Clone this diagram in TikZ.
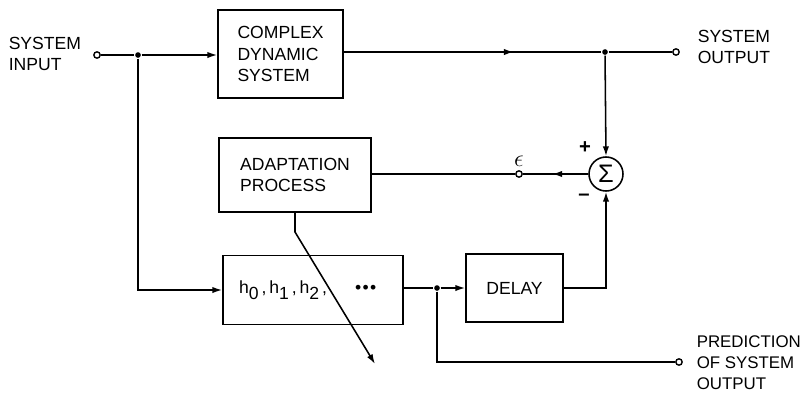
\documentclass[tikz,border=0pt]{standalone}
\usepackage{fontspec}
\setmainfont{Liberation Sans}
\usetikzlibrary{arrows.meta,decorations.markings}
\newcommand{\lblfont}{\fontsize{12.5}{15}\selectfont}
\tikzset{
  block/.style={draw, line width=1.1pt, align=left, font=\lblfont},
  lbl/.style={align=left, font=\lblfont, inner sep=0pt},
  port/.style={circle, draw, line width=1pt, fill=white, inner sep=0pt, minimum size=4.5pt},
  dot/.style={circle, fill, inner sep=0pt, minimum size=4pt},
  tip/.style={-{Latex[length=7pt,width=4.5pt]}},
  midtip/.style={postaction={decorate}, decoration={markings,
      mark=at position #1 with {\arrow{Latex[length=7pt,width=4.5pt]}}}}
}
\begin{document}
\begin{tikzpicture}[x=0.025cm, y=-0.025cm, line width=1.1pt]
  \useasboundingbox (0,0) rectangle (804,396);
  % blocks
  \node[block, minimum width=3.125cm, minimum height=2.2cm] (cds) at (280.5,54) {COMPLEX\\DYNAMIC\\SYSTEM};
  \node[block, minimum width=3.8cm, minimum height=1.85cm] (adapt) at (295,175) {ADAPTATION\\PROCESS};
  \node[block, minimum width=4.5cm, minimum height=1.725cm] (filt) at (313,290)
    {h\raisebox{-4pt}{0}\,,\,h\raisebox{-4pt}{1}\,,\,h\raisebox{-4pt}{2}\,,\hspace{1.6em}\textbullet\kern1pt\textbullet\kern1pt\textbullet\hspace{0.6em}};
  \node[block, minimum width=2.425cm, minimum height=1.7cm] (delay) at (514.5,288) {DELAY};
  \node[circle, draw, minimum size=0.85cm, inner sep=0pt, font=\fontsize{18}{18}\selectfont] (sum) at (606,174) {Σ};
  % ports and junctions
  \node[port] (inp) at (97,55) {};
  \node[dot] (j1) at (138,55) {};
  \node[dot] (j2) at (605,52) {};
  \node[port] (outp) at (676,52) {};
  \node[port] (eps) at (519,174) {};
  \node[dot] (j3) at (437,288) {};
  \node[port] (pred) at (679,362) {};
  \coordinate (kink) at (295,232);
  \coordinate (adj) at (375,364);
  % texts
  \node[lbl, anchor=west] (tin) at (8,54) {SYSTEM\\INPUT};
  \node[lbl, anchor=west] (tout) at (697,47) {SYSTEM\\OUTPUT};
  \node[lbl, anchor=west, font=\fontsize{12}{15}\selectfont] (tpred) at (696,363) {PREDICTION\\OF SYSTEM\\OUTPUT};
  \node[font=\LARGE] (teps) at (519,161) {$\epsilon$};
  \node[font=\Large] (tplus) at (585,148) {\textbf{+}};
  \node[font=\Large] (tminus) at (584,197) {\textbf{–}};
  % connections
  \draw (inp) -- (j1);
  \draw[tip] (j1) -- (cds.west |- j1);
  \draw[midtip=0.66] (cds.east |- j2) -- (j2);
  \draw (j2) -- (outp);
  \draw[tip] (j2) -- (sum.north);
  \draw[midtip=0.55] (sum.west) -- (eps);
  \draw (eps) -- (adapt.east |- eps);
  \draw[tip] (j1) |- (filt.west);
  \draw (filt.east |- j3) -- (j3);
  \draw[tip] (j3) -- (delay.west);
  \draw[tip] (delay.east) -| (sum.south);
  \draw (j3) |- (pred);
  \draw[tip] (adapt.south) -- (kink) -- (adj);
\end{tikzpicture}
\end{document}
